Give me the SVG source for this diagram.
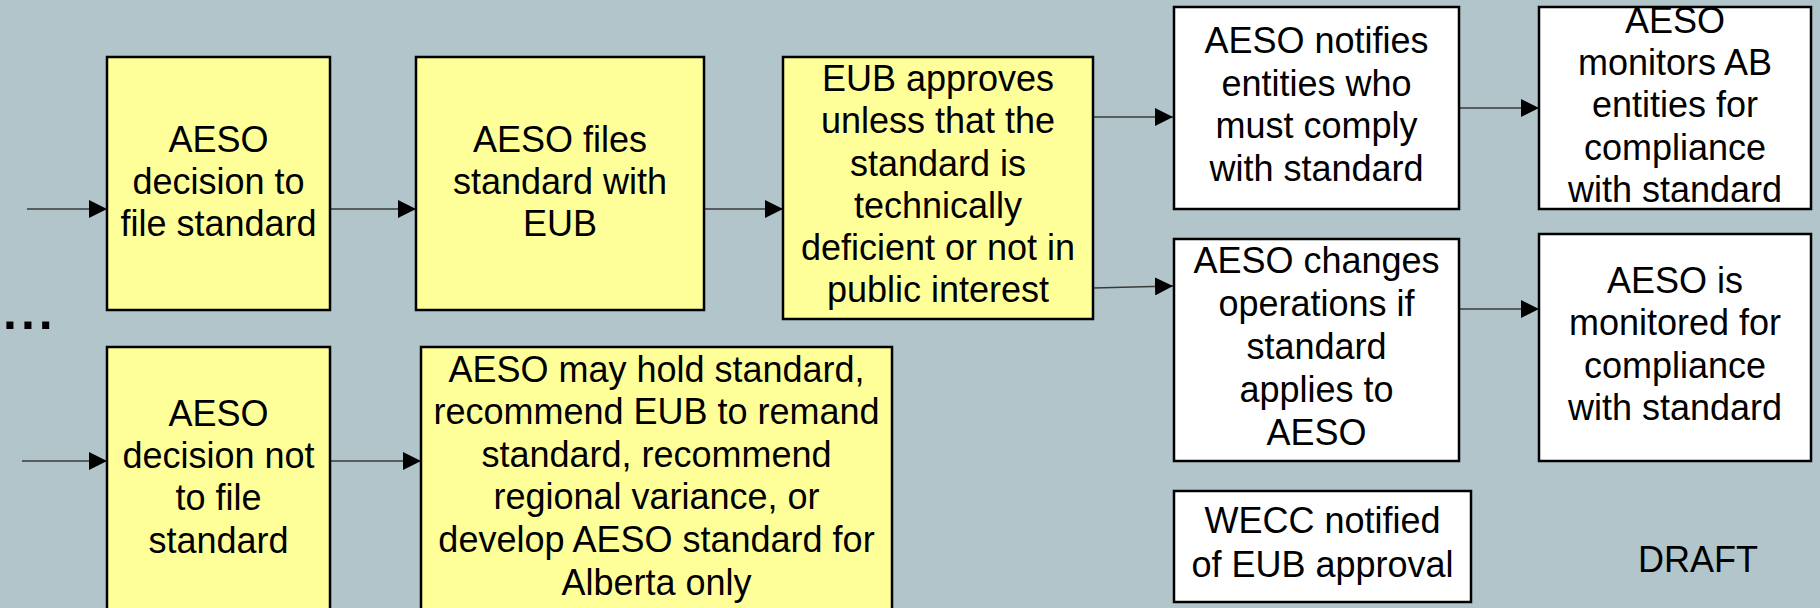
<svg xmlns="http://www.w3.org/2000/svg" width="1820" height="608" viewBox="0 0 1820 608">
<defs>
<marker id="ah" viewBox="0 0 10 10" refX="10" refY="5" markerWidth="18" markerHeight="18" markerUnits="userSpaceOnUse" orient="auto">
<path d="M0,0 L10,5 L0,10 Z" fill="#000"/>
</marker>
<style>
.y{fill:#FFFF99;stroke:#000;stroke-width:2.5}
.w{fill:#FFFFFF;stroke:#000;stroke-width:2.5}
text{font-family:"Liberation Sans",Arial,sans-serif;font-size:36px;fill:#000;text-anchor:middle}
.c{stroke:#3A3A3A;stroke-width:1.6;fill:none;marker-end:url(#ah)}
</style>
</defs>
<rect x="0" y="0" width="1820" height="608" fill="#B1C5CB"/>
<g id="connectors">
<line class="c" x1="27" y1="209" x2="107" y2="209"/>
<line class="c" x1="330" y1="209" x2="416" y2="209"/>
<line class="c" x1="704" y1="209" x2="783" y2="209"/>
<line class="c" x1="1093" y1="117" x2="1173" y2="117"/>
<line class="c" x1="1093" y1="288" x2="1173" y2="286"/>
<line class="c" x1="1459" y1="108" x2="1539" y2="108"/>
<line class="c" x1="1459" y1="309" x2="1539" y2="309"/>
<line class="c" x1="22" y1="461" x2="107" y2="461"/>
<line class="c" x1="330" y1="461" x2="421" y2="461"/>
</g>
<g id="n1">
<rect class="y" x="107" y="57" width="223" height="253"/>
<text x="218.5" y="152">AESO</text>
<text x="218.5" y="194">decision to</text>
<text x="218.5" y="236">file standard</text>
</g>
<g id="n2">
<rect class="y" x="416" y="57" width="288" height="253"/>
<text x="560" y="152">AESO files</text>
<text x="560" y="194">standard with</text>
<text x="560" y="236">EUB</text>
</g>
<g id="n3">
<rect class="y" x="783" y="57" width="310" height="262"/>
<text x="938" y="91">EUB approves</text>
<text x="938" y="133">unless that the</text>
<text x="938" y="176">standard is</text>
<text x="938" y="218">technically</text>
<text x="938" y="260">deficient or not in</text>
<text x="938" y="302">public interest</text>
</g>
<g id="n4">
<rect class="w" x="1174" y="7" width="285" height="202"/>
<text x="1316.5" y="53">AESO notifies</text>
<text x="1316.5" y="96">entities who</text>
<text x="1316.5" y="138">must comply</text>
<text x="1316.5" y="181">with standard</text>
</g>
<g id="n5">
<rect class="w" x="1539" y="7" width="272" height="202"/>
<text x="1675" y="33">AESO</text>
<text x="1675" y="75">monitors AB</text>
<text x="1675" y="117">entities for</text>
<text x="1675" y="160">compliance</text>
<text x="1675" y="202">with standard</text>
</g>
<g id="n6">
<rect class="w" x="1174" y="239" width="285" height="222"/>
<text x="1316.5" y="273">AESO changes</text>
<text x="1316.5" y="316">operations if</text>
<text x="1316.5" y="359">standard</text>
<text x="1316.5" y="402">applies to</text>
<text x="1316.5" y="445">AESO</text>
</g>
<g id="n7">
<rect class="w" x="1539" y="234" width="272" height="227"/>
<text x="1675" y="293">AESO is</text>
<text x="1675" y="335">monitored for</text>
<text x="1675" y="378">compliance</text>
<text x="1675" y="420">with standard</text>
</g>
<g id="n8">
<rect class="y" x="107" y="347" width="223" height="275"/>
<text x="218.5" y="426">AESO</text>
<text x="218.5" y="468">decision not</text>
<text x="218.5" y="510">to file</text>
<text x="218.5" y="553">standard</text>
</g>
<g id="n9">
<rect class="y" x="421" y="347" width="471" height="275"/>
<text x="656.5" y="382">AESO may hold standard,</text>
<text x="656.5" y="424">recommend EUB to remand</text>
<text x="656.5" y="467">standard, recommend</text>
<text x="656.5" y="509">regional variance, or</text>
<text x="656.5" y="552">develop AESO standard for</text>
<text x="656.5" y="595">Alberta only</text>
</g>
<g id="n10">
<rect class="w" x="1174" y="491" width="297" height="111"/>
<text x="1322.5" y="533">WECC notified</text>
<text x="1322.5" y="577">of EUB approval</text>
</g>
<text x="1698" y="572">DRAFT</text>
<text x="3" y="329" style="text-anchor:start;font-weight:bold;font-size:50px;letter-spacing:4px">...</text>
</svg>
